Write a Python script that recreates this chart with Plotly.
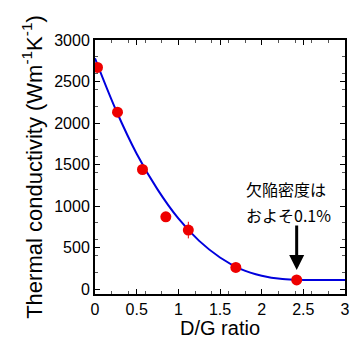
import plotly.graph_objects as go

# measured data points
dg_ratio = [0.03, 0.27, 0.57, 0.85, 1.12, 1.69, 2.42]
conductivity = [2670, 2130, 1440, 870, 710, 260, 110]
err = [0, 0, 0, 0, 100, 0, 0]

# fitted curve
fit_x = [0.0, 0.25, 0.5, 0.75, 1.0, 1.25, 1.5, 1.75, 2.0, 2.25, 2.5, 2.75, 3.0]
fit_y = [2780, 2160, 1630, 1200, 850, 580, 380, 240, 160, 120, 110, 110, 110]

x_ticks = [0, 0.5, 1, 1.5, 2, 2.5, 3]
x_tick_labels = ["0", "0.5", "1", "1.5", "2", "2.5", "3"]
y_ticks = [0, 500, 1000, 1500, 2000, 2500, 3000]
y_tick_labels = ["0", "500", "1000", "1500", "2000", "2500", "3000"]

note_lines = ["欠陥密度は", "およそ0.1%"]

fig = go.Figure()
fig.add_trace(go.Scatter(x=fit_x, y=fit_y, mode="lines",
                         line=dict(color="#0000dd", width=2, shape="spline"),
                         showlegend=False, hoverinfo="skip"))
fig.add_trace(go.Scatter(x=dg_ratio, y=conductivity, mode="markers",
                         marker=dict(color="#ee0000", size=11),
                         error_y=dict(type="data", array=err, visible=True,
                                      color="#ee0000", thickness=1, width=0),
                         showlegend=False))

fig.add_annotation(x=2.42, y=180, ax=0, ay=-50, xref="x", yref="y",
                   showarrow=True, arrowhead=2, arrowsize=1, arrowwidth=3,
                   arrowcolor="black", standoff=4, text="")
for txt, yv in zip(note_lines, [1205, 895]):
    fig.add_annotation(x=1.8, y=yv, xref="x", yref="y", showarrow=False,
                       text=txt, xanchor="left", yanchor="middle", borderpad=0,
                       font=dict(family="Noto Sans CJK JP", size=16, color="black"))

axis_common = dict(showline=True, linecolor="black", linewidth=2, mirror="ticks",
                   ticks="inside", ticklen=5, tickcolor="black", showgrid=False,
                   zeroline=False,
                   tickfont=dict(family="Liberation Sans, Arial", size=16, color="black"),
                   minor=dict(ticks="inside", ticklen=3, tickcolor="#555"))

fig.update_xaxes(range=[0, 3], tickvals=x_ticks, ticktext=x_tick_labels,
                 title=dict(text="D/G ratio", standoff=2,
                            font=dict(family="Liberation Sans, Arial", size=20, color="black")),
                 **axis_common)
fig.update_yaxes(range=[-60, 3000], tickvals=y_ticks, ticktext=y_tick_labels,
                 title=dict(text="Thermal conductivity (Wm<sup>-1</sup>K<sup>-1</sup>)", standoff=6,
                            font=dict(family="Liberation Sans, Arial", size=22, color="black")),
                 **axis_common)

fig.update_layout(width=355, height=339, margin=dict(l=95, r=5, t=40, b=44),
                  plot_bgcolor="white", paper_bgcolor="white")

fig.write_html("out.html")
